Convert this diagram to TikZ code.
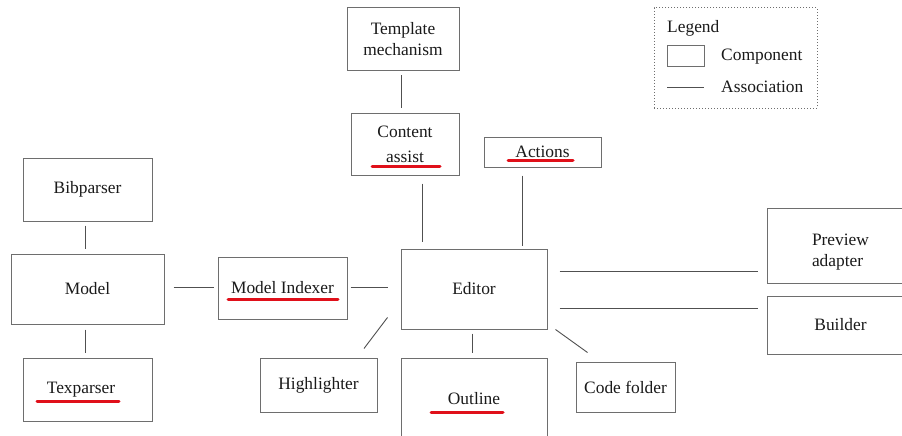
\documentclass[tikz,border=0pt]{standalone}
\usepackage{fontspec}
\setmainfont{Liberation Serif}
\usetikzlibrary{calc}
\definecolor{boxgray}{HTML}{6E6E6E}
\definecolor{linegray}{HTML}{505050}
\definecolor{ulred}{HTML}{E0101A}
\definecolor{inkc}{HTML}{1A1A1A}
\begin{document}
\begin{tikzpicture}[x=1pt,y=-1pt,
  box/.style={draw=boxgray,line width=1pt,rectangle,inner sep=0pt,align=center,text=inkc,
              font=\fontsize{17.4}{21}\selectfont},
  assoc/.style={draw=linegray,line width=0.9pt},
  uline/.style={draw=ulred,line width=3pt,line cap=round},
  txt/.style={inner sep=0pt,anchor=west,text=inkc,font=\fontsize{17.4}{21}\selectfont}]
\clip (0,0) rectangle (902,436);
\fill[white] (0,0) rectangle (902,436);

% components
\node[box,minimum width=112,minimum height=63] (tmpl) at (403,39.5) {Template\\mechanism};
\node[box,minimum width=108,minimum height=62,font=\fontsize{17.4}{25}\selectfont] (content) at (405,144) {Content\\assist};
\node[box,minimum width=117,minimum height=30] (actions) at (542.5,152) {Actions};
\node[box,minimum width=146,minimum height=80] (editor) at (474,289) {Editor};
\node[box,minimum width=129,minimum height=63] (bib) at (87.5,189.5) {Bibparser};
\node[box,minimum width=153,minimum height=70] (model) at (87.5,289) {Model};
\node[box,minimum width=129,minimum height=63] (tex) at (87.5,389.5) {\hspace*{-13pt}Texparser};
\node[box,minimum width=129,minimum height=62] (mi) at (282.5,288) {Model Indexer};
\node[box,minimum width=117,minimum height=54] (hl) at (318.5,385) {Highlighter};
\node[box,minimum width=146,minimum height=82] (outline) at (474,399) {Outline};
\node[box,minimum width=99,minimum height=50] (cf) at (625.5,387) {Code folder};
\node[box,minimum width=147,minimum height=75,align=left] (preview) at (840.5,245.5) {\rule{0pt}{25pt}Preview\\adapter};
\node[box,minimum width=147,minimum height=58] (builder) at (840.5,325) {Builder};

% associations
\draw[assoc] ($(tmpl.south)+(-2,4)$) -- ($(content.north)+(-4,-5)$);
\draw[assoc] ($(content.south)+(17,8)$) -- ($(editor.north)+(-52,-7)$);
\draw[assoc] ($(actions.south)+(-20.5,8)$) -- ($(editor.north)+(48,-3)$);
\draw[assoc] ($(bib.south)+(-2.5,4)$) -- ($(model.north)+(-2.5,-5)$);
\draw[assoc] ($(model.south)+(-2.5,5)$) -- ($(tex.north)+(-2.5,-5)$);
\draw[assoc] ($(model.east)+(9,-2)$) -- ($(mi.west)+(-4,-1)$);
\draw[assoc] ($(mi.east)+(3,-1)$) -- ($(editor.west)+(-13,-2)$);
\draw[assoc] ($(editor.south west)+(-13,-12)$) -- ($(hl.north)+(45.5,-9)$);
\draw[assoc] ($(editor.south)+(-2,4)$) -- ($(outline.north)+(-2,-5)$);
\draw[assoc] ($(editor.south east)+(8,0)$) -- ($(cf.north west)+(12,-9)$);
\draw[assoc] ($(editor.east)+(12,-18)$) -- ($(preview.west)+(-9,25.5)$);
\draw[assoc] ($(editor.east)+(12,19)$) -- ($(builder.west)+(-9,-17)$);

% red underlines
\draw[uline] (228,299) -- (338,299);
\draw[uline] (37,401) -- (119,401);
\draw[uline] (372,166) -- (440,166);
\draw[uline] (508,160) -- (573,160);
\draw[uline] (431,412) -- (503,412);

% legend
\node[draw=boxgray,dotted,line width=1pt,minimum width=163,minimum height=100,inner sep=0pt] (legend) at (735.5,58) {};
\node[txt] (legtitle) at (667,28) {Legend};
\node[draw=boxgray,line width=1pt,minimum width=37,minimum height=21,inner sep=0pt] (legcomp) at (685.5,56.5) {};
\node[txt] (legcomptxt) at (721,57) {Component};
\coordinate (legA) at (667,87);
\coordinate (legB) at (704,87);
\draw[assoc] (legA) -- (legB);
\node[txt] (legassoctxt) at (721,87) {Association};
\end{tikzpicture}
\end{document}
